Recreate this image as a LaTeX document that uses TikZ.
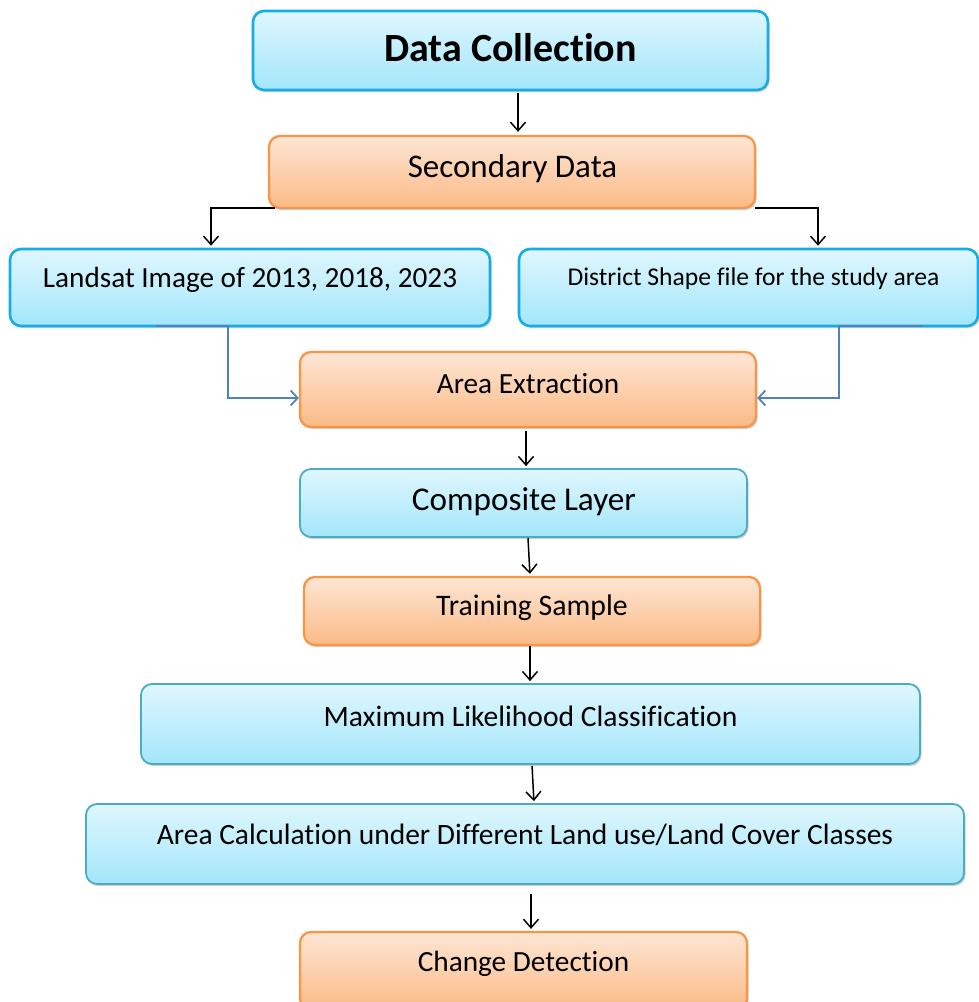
\documentclass[tikz,border=0pt]{standalone}
\usepackage{fontspec}
\setmainfont{Carlito}[Ligatures={NoCommon}]
\usetikzlibrary{arrows.meta,shadows}
\definecolor{bTop}{HTML}{DFF7FE}
\definecolor{bBot}{HTML}{A3E6FB}
\definecolor{bBright}{HTML}{16ADE6}
\definecolor{bTeal}{HTML}{4BACC6}
\definecolor{oTop}{HTML}{FDE6D4}
\definecolor{oBot}{HTML}{FBBA86}
\definecolor{oLine}{HTML}{F79646}
\definecolor{cBlue}{HTML}{4F81BD}
\tikzset{
  boxbase/.style={rectangle, rounded corners=11pt, inner sep=0pt,
    drop shadow={shadow xshift=1.5pt, shadow yshift=-2pt, opacity=0.3, fill=black!60}},
  bluebox/.style={boxbase, top color=bTop, bottom color=bBot, draw=bTeal, line width=1.8pt},
  brightbox/.style={boxbase, top color=bTop, bottom color=bBot, draw=bBright, line width=2.6pt},
  orangebox/.style={boxbase, top color=oTop, bottom color=oBot, draw=oLine, line width=2.3pt},
  arr/.style={draw=black, line width=1.5pt, -{Straight Barb[length=8.5pt,width=15pt,line width=1.5pt]}},
  barr/.style={draw=cBlue, line width=2pt, -{Straight Barb[length=7pt,width=15pt,line width=1.8pt]}},
  txt/.style={inner sep=0pt, text=black}
}
\begin{document}
\begin{tikzpicture}[x=1pt,y=-1pt]
\useasboundingbox (0,0) rectangle (979,1002);
% boxes
\node[brightbox, minimum width=515pt, minimum height=79pt] (dc) at (510.5,50.5) {};
\node[orangebox, minimum width=486pt, minimum height=72pt] (sd) at (512,172) {};
\node[brightbox, minimum width=480pt, minimum height=77pt] (ls) at (250,287.5) {};
\node[brightbox, minimum width=459pt, minimum height=77pt] (ds) at (748.5,287.5) {};
\node[orangebox, minimum width=456pt, minimum height=75pt] (ae) at (528,389.5) {};
\node[bluebox, minimum width=447pt, minimum height=68pt] (cl) at (523.5,503) {};
\node[orangebox, minimum width=456pt, minimum height=68pt] (ts) at (532,611) {};
\node[bluebox, minimum width=779pt, minimum height=80pt] (ml) at (530.5,724) {};
\node[bluebox, minimum width=878pt, minimum height=80pt] (ac) at (525,844) {};
\node[orangebox, minimum width=447pt, minimum height=78pt] (cd) at (523.5,971) {};
% texts
\node[txt, font=\fontsize{40}{44}\selectfont\bfseries] (dct) at (510.5,47.5) {Data Collection};
\node[txt, font=\fontsize{33}{37}\selectfont] (sdt) at (512.5,169) {Secondary Data};
\node[txt, font=\fontsize{29.2}{33}\selectfont] (lst) at (250,280) {Landsat Image of 2013, 2018, 2023};
\node[txt, font=\fontsize{25.6}{29}\selectfont] (dst) at (753.5,279) {District Shape file for the study area};
\node[txt, font=\fontsize{29.3}{33}\selectfont] (aet) at (528,384) {Area Extraction};
\node[txt, font=\fontsize{33.2}{37}\selectfont] (clt) at (524,502) {Composite Layer};
\node[txt, font=\fontsize{29.8}{33}\selectfont] (tst) at (532,608) {Training Sample};
\node[txt, font=\fontsize{29.6}{33}\selectfont] (mlt) at (530.5,716) {Maximum Likelihood Classification};
\node[txt, font=\fontsize{29.5}{33}\selectfont] (act) at (525,835) {Area Calculation under Different Land use/Land Cover Classes};
\node[txt, font=\fontsize{29.3}{33}\selectfont] (cdt) at (523.5,964) {Change Detection};
% connectors
\draw[arr, shorten <=2pt, shorten >=3pt] ([xshift=7.5pt]dc.south) -- ([xshift=6pt]sd.north);
\draw[arr, shorten >=2pt] ([xshift=7pt,yshift=1pt]sd.south west) -| ([xshift=-39pt]ls.north);
\draw[arr, shorten >=2pt] ([xshift=-1pt,yshift=1pt]sd.south east) -| ([xshift=69.5pt]ds.north);
\draw[barr] ([xshift=-94pt,yshift=1pt]ls.south) -- ([xshift=-22pt,yshift=1pt]ls.south) |- ([yshift=-8.5pt]ae.west);
\draw[barr] ([xshift=174.5pt,yshift=1pt]ds.south) -- ([xshift=90.5pt,yshift=1pt]ds.south) |- ([yshift=-8.5pt]ae.east);
\draw[arr, shorten <=3pt, shorten >=2pt] ([xshift=-2pt]ae.south) -- ([xshift=2.5pt]cl.north);
\draw[arr, shorten >=2pt] ([xshift=4.5pt]cl.south) -- ([xshift=-2pt]ts.north);
\draw[arr, shorten >=2pt] ([xshift=-2pt]ts.south) -- ([xshift=-0.5pt]ml.north);
\draw[arr, shorten <=1pt, shorten >=2pt] ([xshift=1.5pt]ml.south) -- ([xshift=9pt]ac.north);
\draw[arr, shorten <=9pt, shorten >=2pt] ([xshift=6pt]ac.south) -- ([xshift=7.5pt]cd.north);
\end{tikzpicture}
\end{document}
